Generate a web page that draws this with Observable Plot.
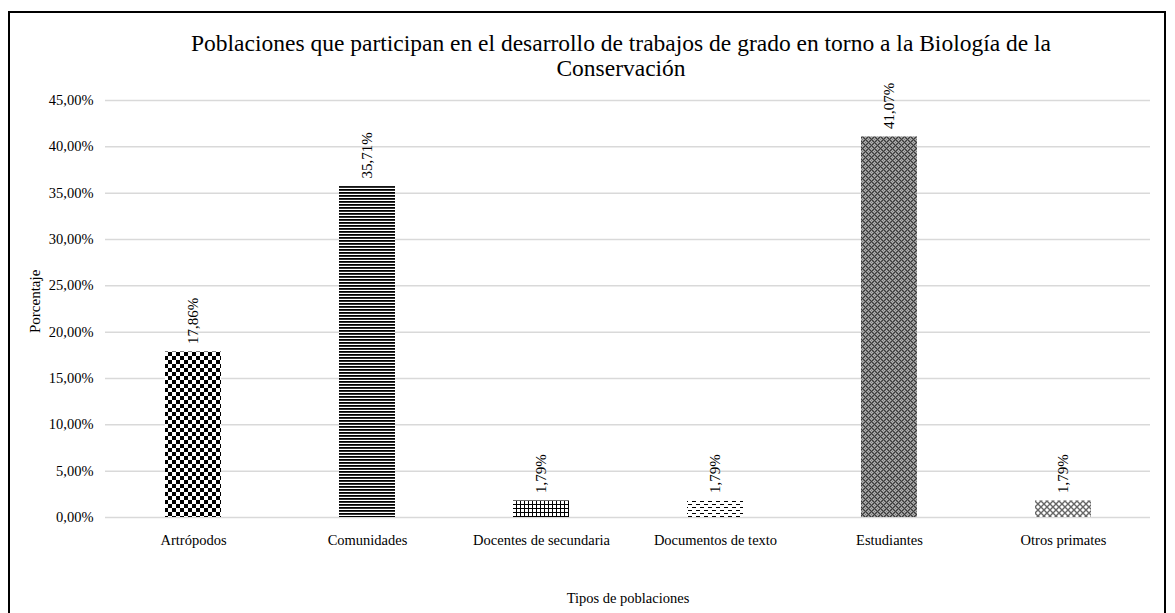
<!DOCTYPE html>
<html>
<head>
<meta charset="utf-8">
<script src="https://cdn.jsdelivr.net/npm/d3@7"></script>
<script src="https://cdn.jsdelivr.net/npm/@observablehq/plot@0.6"></script>
<style>
  html, body { margin: 0; padding: 0; background: #fff; }
  #wrap { position: relative; width: 1175px; height: 613px; overflow: hidden; }
  #frame { position: absolute; left: 8px; top: 11px; width: 1158px; height: 640px; border: 2px solid #000; box-sizing: border-box; }
  #title { position: absolute; left: 621px; top: 31px; transform: translateX(-50%); white-space: nowrap; text-align: center;
           font-family: "Liberation Serif", serif; font-size: 23.5px; line-height: 25px; color: #000; }
  #chart { position: absolute; left: 0; top: 0; }
</style>
</head>
<body>
<div id="wrap">
  <div id="frame"></div>
  <div id="chart"></div>
  <div id="title">Poblaciones que participan en el desarrollo de trabajos de grado en torno a la Biología de la<br>Conservación</div>
</div>
<script>
const categories = ["Artrópodos", "Comunidades", "Docentes de secundaria", "Documentos de texto", "Estudiantes", "Otros primates"];
const values = [17.86, 35.71, 1.79, 1.79, 41.07, 1.79];
const yTicks = [0, 5, 10, 15, 20, 25, 30, 35, 40, 45];
const patternIds = ["p-checker", "p-hstripe", "p-grid", "p-dash", "p-gray", "p-weave"];

const data = categories.map((c, i) => ({cat: c, val: values[i], pat: patternIds[i]}));
const pct = v => v.toFixed(2).replace(".", ",") + "%";

const plot = Plot.plot({
  width: 1175,
  height: 613,
  marginLeft: 105,
  marginRight: 25,
  marginTop: 100,
  marginBottom: 96,
  style: {fontFamily: "Liberation Serif, serif", fontSize: "14.5px", color: "#000", background: "transparent"},
  x: {domain: categories, paddingInner: 0.68, paddingOuter: 0.34, label: null},
  y: {domain: [0, 45], label: null},
  marks: [
    Plot.gridY(yTicks, {stroke: "#d9d9d9", strokeOpacity: 1, strokeWidth: 1.5}),
    Plot.axisY({ticks: yTicks, tickSize: 0, tickPadding: 12, tickFormat: pct, label: null}),
    Plot.axisX({tickSize: 0, tickPadding: 17, label: null}),
    Plot.barY(data, {x: "cat", y: "val", fill: "black", className: "patbars"}),
    Plot.text(data, {x: "cat", y: "val", text: d => pct(d.val), rotate: -90, textAnchor: "start", dy: -8, fontSize: 15, fill: "#000"}),
    Plot.text(["Porcentaje"], {frameAnchor: "left", dx: -70, dy: 24, rotate: -90, fontSize: 15, fill: "#000"}),
    Plot.text(["Tipos de poblaciones"], {frameAnchor: "bottom", dy: 85, fontSize: 14.5, fill: "#000"})
  ]
});

document.getElementById("chart").appendChild(plot);

// patterns
const svg = d3.select(plot);
const defs = svg.insert("defs", ":first-child");
function pat(id, w, h) {
  return defs.append("pattern").attr("id", id).attr("patternUnits", "userSpaceOnUse").attr("width", w).attr("height", h);
}
function px(p, x, y, w, h, c) { p.append("rect").attr("x", x).attr("y", y).attr("width", w).attr("height", h).attr("fill", c); }
// checkerboard
let p = pat("p-checker", 8, 8);
px(p, 0, 0, 8, 8, "#fff"); px(p, 0, 0, 4, 4, "#000"); px(p, 4, 4, 4, 4, "#000");
// horizontal stripes
p = pat("p-hstripe", 3, 3);
px(p, 0, 0, 3, 3, "#fff"); px(p, 0, 0, 3, 1.8, "#000");
// small grid
p = pat("p-grid", 4, 4);
px(p, 0, 0, 4, 4, "#fff"); px(p, 0, 0, 4, 1, "#000"); px(p, 0, 0, 1, 4, "#000");
// dashed horizontal
p = pat("p-dash", 8, 6);
px(p, 0, 0, 8, 6, "#fff"); px(p, 0, 0, 4, 1, "#000"); px(p, 4, 3, 4, 1, "#000");
// gray texture (dense, darker)
p = pat("p-gray", 6, 6);
px(p, 0, 0, 6, 6, "#7a7a7a");
for (let yy = 0; yy < 6; yy++) for (let xx = 0; xx < 6; xx++) {
  if ((xx + yy) % 2 === 0) px(p, xx, yy, 1, 1, (xx < 3) === (yy < 3) ? "#3a3a3a" : "#b5b5b5");
}
// weave
p = pat("p-weave", 6, 6);
px(p, 0, 0, 6, 6, "#fff");
p.append("path").attr("d", "M0,6 L6,0 M0,0 L6,6").attr("stroke", "#666").attr("stroke-width", 1.4);

svg.selectAll("g.patbars rect").each(function(d, i) {
  const idx = (typeof d === "number") ? d : i;
  d3.select(this).attr("fill", `url(#${data[idx].pat})`);
});
</script>
</body>
</html>
